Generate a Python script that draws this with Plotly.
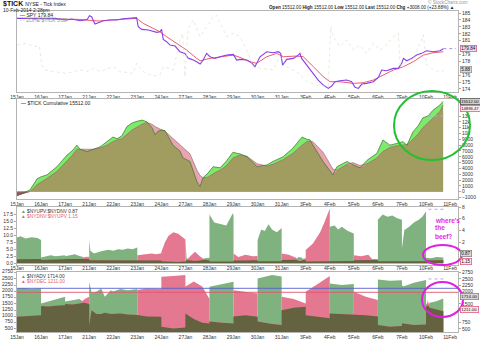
import plotly.graph_objects as go
import numpy as np

W, H = 480, 340
FONT = "Liberation Sans, Arial, sans-serif"

# ---------------- data ----------------
dates = ["15Jan", "16Jan", "17Jan", "21Jan", "22Jan", "23Jan", "24Jan", "27Jan", "28Jan", "29Jan",
         "30Jan", "31Jan", "3Feb", "4Feb", "5Feb", "6Feb", "7Feb", "10Feb", "11Feb"]

# SPY intraday (x = trading-day index)
spy_x = [0.00, 1.58, 2.06, 2.27, 2.62, 2.92, 3.01, 3.10, 3.24, 3.38, 3.59, 3.87, 4.14, 4.42, 4.83, 4.97,
         5.04, 5.18, 5.46, 5.81, 5.94, 6.01, 6.08, 6.22, 6.36, 6.57, 6.77, 6.98, 7.12, 7.26, 7.47, 7.61,
         7.74, 7.88, 8.02, 8.23, 8.44, 8.72, 8.99, 9.13, 9.27, 9.55, 9.75, 9.89, 10.10, 10.38, 10.65,
         10.86, 10.96, 11.04, 11.21, 11.49, 11.69, 11.76, 11.83, 12.04, 12.25, 12.52, 12.73, 12.94,
         13.08, 13.22, 13.42, 13.70, 13.91, 14.05, 14.19, 14.33, 14.53, 14.81, 15.02, 15.16, 15.36,
         15.64, 15.85, 15.99, 16.06, 16.20, 16.40, 16.61, 16.82, 17.02, 17.30, 17.58, 17.72]
spy = [184.23, 184.23, 183.99, 184.13, 183.89, 184.08, 184.61, 184.47, 183.41, 183.60, 183.89, 183.99,
       183.99, 184.18, 184.33, 184.33, 183.02, 182.63, 182.54, 182.20, 182.29, 182.63, 181.18, 180.85,
       180.36, 180.22, 179.40, 179.16, 178.43, 178.29, 177.95, 177.61, 178.19, 179.16, 178.67, 178.43,
       178.67, 178.91, 179.01, 178.19, 178.29, 178.19, 177.80, 177.22, 178.67, 179.40, 179.25, 179.40,
       179.16, 177.46, 178.29, 178.43, 178.91, 179.16, 178.43, 177.46, 176.50, 175.29, 174.57, 174.08,
       174.42, 175.05, 175.19, 175.29, 175.05, 174.23, 174.08, 174.71, 174.81, 175.05, 175.68, 176.74,
       176.64, 176.98, 176.98, 177.71, 178.43, 178.09, 178.43, 178.91, 179.16, 179.54, 179.40, 179.54,
       179.84]

# SPY moving average (red)
spy_ma_x = [0.00, 2.62, 3.17, 3.45, 3.87, 4.83, 4.97, 5.25, 5.67, 5.94, 6.22, 6.64, 7.05, 7.47, 7.61,
            8.02, 8.58, 8.99, 9.27, 9.68, 9.96, 10.38, 10.79, 11.07, 11.62, 11.90, 12.32, 12.73, 13.01,
            13.42, 13.98, 14.39, 14.81, 15.22, 15.64, 16.06, 16.47, 16.89, 17.30, 17.72]
spy_ma = [184.23, 184.08, 183.89, 183.85, 183.99, 184.23, 184.23, 183.50, 182.78, 182.29, 181.57,
          180.60, 179.64, 178.43, 178.09, 178.43, 178.67, 178.91, 178.57, 177.95, 177.71, 178.67,
          179.16, 178.67, 178.77, 178.67, 177.22, 175.77, 175.05, 175.05, 174.81, 174.91, 175.29,
          176.02, 176.74, 177.22, 177.95, 178.91, 179.25, 179.40]

# $TICK (dotted, light green)
tick_x = [0.01, 0.40, 0.68, 0.93, 1.03, 1.16, 1.51, 2.06, 2.62, 2.90, 3.17, 3.45, 4.00, 4.28, 4.83, 4.97,
          5.25, 5.67, 5.94, 6.08, 6.50, 6.77, 6.89, 6.98, 7.12, 7.33, 7.61, 7.88, 8.16, 8.30, 8.44, 8.72,
          8.99, 9.27, 9.55, 9.82, 10.10, 10.65, 10.93, 11.21, 11.62, 12.04, 12.46, 12.94, 13.04, 13.15,
          13.42, 13.70, 13.98, 14.26, 14.53, 14.81, 15.09, 15.36, 15.64, 15.85, 15.92, 16.20, 16.47,
          16.75, 16.89, 17.02, 17.30, 17.58, 17.72]
tick_v = [134, 142, 126, 129, 36, 11, 3, -6, 11, 3, 19, 3, 27, 3, -6, 44, 3, -19, -14, 27, 11, 159, 192,
          -22, 217, 258, 175, 225, 274, 282, 241, 175, 192, 175, 110, 27, 19, 11, 77, 27, 3, -47, -63,
          -71, 225, 175, 126, 159, 110, 134, 93, 142, 110, 134, 175, 192, 36, 52, 68, 142, 184, 36, 11,
          3, 5.88]

# $TICK cumulative and its moving average
cum_x = [0.00, 0.54, 0.83, 0.96, 1.25, 1.66, 2.08, 2.29, 2.49, 2.62, 2.91, 3.16, 3.45, 3.74, 3.99, 4.16,
         4.36, 4.57, 4.78, 4.99, 5.20, 5.40, 5.61, 5.74, 5.86, 6.03, 6.15, 6.48, 6.77, 6.90, 7.19, 7.48,
         7.61, 7.73, 7.94, 8.15, 8.44, 8.69, 8.98, 9.14, 9.27, 9.56, 9.98, 10.39, 10.64, 11.06, 11.47,
         11.85, 12.05, 12.18, 12.30, 12.72, 13.01, 13.13, 13.30, 13.72, 13.97, 14.26, 14.55, 14.96,
         15.21, 15.50, 15.79, 16.04, 16.21, 16.46, 16.67, 16.87, 17.08, 17.29, 17.58, 17.71]
cum = [-700, 300, 2200, 2500, 2900, 4300, 6300, 7000, 8000, 7300, 6900, 7300, 7700, 8600, 9400, 9100,
       9600, 11200, 11800, 12100, 12300, 12000, 11000, 9800, 10400, 10600, 10500, 8000, 7000, 5800, 5200,
       1700, 900, 2400, 3200, 4300, 4100, 5200, 6800, 6600, 6500, 6000, 4300, 4600, 5200, 6000, 7500,
       9400, 9000, 8900, 8000, 5200, 3500, 2900, 4300, 5200, 4600, 4100, 5400, 6600, 8900, 8000, 8300,
       8600, 8000, 10300, 11300, 12700, 13000, 14000, 14900, 15512]
cum_ma = [-100, 0, 1200, 1500, 2300, 3500, 5200, 6200, 7300, 7300, 7200, 7300, 7500, 8000, 8600, 8900,
          9100, 9800, 10600, 11100, 11600, 11900, 11600, 11200, 10900, 10600, 10400, 9200, 8200, 7700,
          6500, 3700, 2800, 2400, 2500, 3100, 3700, 4400, 5800, 6100, 6300, 6100, 4800, 4400, 4700, 5500,
          6600, 8000, 8600, 8700, 8600, 6800, 4800, 3900, 3700, 4700, 5000, 4500, 4800, 5800, 6900, 7600,
          7900, 8000, 8100, 9000, 9900, 11000, 11800, 12600, 13800, 14896.47]

# NYUPV:NYDNV (green) and NYDNV:NYUPV (pink)
br_x = [0.0, 0.15, 0.35, 0.6, 0.85, 1.0,
        1.0, 1.2, 1.4, 1.6, 1.8, 2.0,
        2.0, 2.2, 2.4, 2.6, 2.75, 2.8, 3.0,
        3.0, 3.05, 3.2, 3.5, 3.8, 4.0,
        4.0, 4.2, 4.4, 4.6, 4.8, 5.0,
        5.0, 5.3, 5.6, 5.8, 6.0,
        6.0, 6.15, 6.3, 6.5, 6.7, 6.9, 7.0,
        7.0, 7.05, 7.2, 7.4, 7.6, 7.8, 8.0,
        8.0, 8.2, 8.5, 8.7, 8.8, 8.97, 9.0,
        9.0, 9.2, 9.5, 9.8, 10.0,
        10.0, 10.15, 10.3, 10.45, 10.6, 10.8, 11.0,
        11.0, 11.3, 11.6, 11.7, 11.85, 11.9, 12.0,
        12.0, 12.3, 12.6, 12.8, 12.97, 13.0,
        13.0, 13.2, 13.35, 13.5, 13.75, 14.0,
        14.0, 14.3, 14.6, 14.8, 15.0,
        15.0, 15.2, 15.4, 15.6, 15.8, 16.0,
        16.0, 16.1, 16.3, 16.5, 16.7, 16.85, 17.0,
        17.0, 17.2, 17.45, 17.72]
up_ratio = [9.2, 9.6, 8.8, 9.3, 9.0, 8.3,
            2.1, 2.6, 2.9, 2.5, 2.7, 2.9,
            2.5, 2.9, 3.2, 2.6, 2.2, 1.6, 1.5,
            8.3, 4.5, 3.5, 4.3, 4.8, 4.5,
            4.5, 5.0, 4.8, 5.3, 5.0, 5.6,
            1.0, 1.0, 1.0, 1.0, 1.0,
            0.7, 0.6, 0.6, 0.5, 0.5, 0.6, 0.6,
            8.3, 1.8, 1.0, 0.8, 1.0, 1.8, 2.0,
            17.3, 14.5, 13.9, 13.4, 15.0, 17.8, 17.0,
            1.0, 1.1, 1.0, 1.1, 1.1,
            8.3, 12.0, 11.5, 13.9, 12.0, 11.0, 12.5,
            1.2, 1.2, 1.3, 2.2, 2.0, 1.2, 1.2,
            0.6, 0.6, 0.6, 0.6, 0.6, 0.6,
            13.0, 13.4, 12.0, 13.0, 11.5, 10.6,
            1.1, 1.1, 1.1, 1.5, 1.4,
            15.5, 17.3, 16.5, 17.0, 16.0, 15.5,
            5.3, 11.8, 13.0, 14.5, 15.5, 16.5, 18.4,
            2.0, 1.8, 2.2, 2.1]
dn_ratio = [1.4, 1.4, 1.4, 1.5, 1.5, 1.5,
            1.2, 1.2, 1.3, 1.3, 1.4, 1.4,
            1.5, 1.5, 1.5, 1.6, 1.6, 2.2, 2.3,
            1.1, 1.1, 1.1, 1.1, 1.1, 1.1,
            1.0, 1.0, 1.0, 1.0, 1.0, 1.0,
            2.9, 3.2, 3.5, 3.2, 3.6,
            4.0, 7.5, 9.8, 11.0, 10.5, 9.0, 8.5,
            0.5, 1.2, 2.5, 4.1, 2.5, 1.3, 1.0,
            0.6, 0.6, 0.6, 0.6, 0.6, 0.6, 0.6,
            3.5, 2.2, 3.0, 2.5, 2.6,
            0.7, 0.7, 0.7, 0.7, 0.7, 0.7, 0.7,
            3.5, 3.0, 2.0, 0.8, 0.9, 1.6, 1.8,
            4.7, 7.0, 11.0, 15.0, 19.5, 19.5,
            0.8, 0.8, 0.8, 0.8, 0.8, 0.8,
            2.9, 2.5, 3.0, 1.2, 1.2,
            0.7, 0.7, 0.7, 0.7, 0.7, 0.7,
            0.7, 0.7, 0.7, 0.7, 0.7, 0.7, 0.7,
            1.1, 1.1, 1.1, 1.1]

# NYSE advancing (green) / declining (pink) volume
vol_x = [0.0, 0.3, 0.6, 1.0,
         1.0, 1.3, 1.6, 2.0,
         2.0, 2.3, 2.6, 2.8, 3.0,
         3.0, 3.1, 3.3, 3.5, 3.65, 3.9, 4.0,
         4.0, 4.3, 4.6, 5.0,
         5.0, 5.4, 6.0,
         6.0, 6.5, 7.0,
         7.0, 7.35, 7.7, 8.0,
         8.0, 8.5, 9.0,
         9.0, 9.5, 10.0,
         10.0, 10.6, 11.0,
         11.0, 11.5, 12.0,
         12.0, 12.5, 13.0,
         13.0, 13.5, 14.0,
         14.0, 14.5, 15.0,
         15.0, 15.5, 16.0,
         16.0, 16.05, 16.5, 17.0,
         17.0, 17.08, 17.15, 17.4, 17.72]
adv = [2120, 2140, 2100, 2130,
       1520, 1600, 1700, 1790,
       1600, 1650, 1700, 1550, 1500,
       2390, 1950, 1990, 2120, 1790, 2050, 2000,
       2000, 2100, 2050, 2100,
       1060, 1000, 990,
       590, 520, 560,
       1120, 900, 750, 720,
       2190, 2300, 2390,
       1000, 1050, 990,
       2520, 2660, 2600,
       1250, 1350, 1390,
       1050, 990, 925,
       2320, 2260, 2300,
       1100, 1050, 1000,
       2480, 2430, 2450,
       2260, 2200, 2350, 2460,
       1520, 1450, 1550, 1600, 1714]
dec = [990, 1000, 1030, 1050,
       1420, 1400, 1430, 1450,
       1500, 1480, 1520, 1690, 1790,
       650, 1250, 1100, 1100, 1150, 1100, 1100,
       1100, 1120, 1080, 1060,
       2060, 2120, 2100,
       2590, 2620, 2660,
       2200, 2400, 2200, 1700,
       800, 750, 720,
       2050, 2000, 1920,
       800, 700, 660,
       1790, 1700, 1520,
       1990, 2300, 2620,
       1120, 1100, 1100,
       1990, 1790, 1660,
       660, 590, 620,
       720, 720, 660, 680,
       1390, 1650, 1350, 1300, 1211]
vol_levels = [2126, 1966]          # blue, red horizontal reference lines

price_ticks = [174, 175, 176, 178, 179, 181, 182, 183, 184, 185]
cum_ticks = list(range(-1000, 14000, 1000))
ratio_ticks = [0, 2.5, 5, 7.5, 10, 12.5, 15, 17.5]
ratio_right_ticks = [2, 4, 6, 8]
vol_ticks = list(range(500, 3000, 250))
vol_right_ticks = [500, 750, 1500, 2000, 2250, 2500, 2750]

# ---------------- layout constants (pixels) ----------------
XL, XR = 17, 458
X_END = 18.33
X_PROJ = 18.25
P1 = (11, 92)
P2 = (99, 199)
P3 = (207, 265)
P4 = (272, 332)


def dom(p):
    return [1 - p[1] / H, 1 - p[0] / H]


GREEN_L, PINK_L, OLIVE_L = "#7cea6a", "#e9a3b3", "#a19c60"
GREEN, PINK, OLIVE = "#7fb27f", "#e47891", "#65623f"

fig = go.Figure()


def line(x, y, xa, ya, color, width, dash=None):
    fig.add_trace(go.Scatter(x=x, y=y, xaxis=xa, yaxis=ya, mode="lines",
                             line=dict(color=color, width=width, dash=dash),
                             hoverinfo="skip", showlegend=False))


def area(x, y, xa, ya, color):
    fig.add_trace(go.Scatter(x=x, y=y, xaxis=xa, yaxis=ya, mode="lines", fill="tozeroy",
                             fillcolor=color, line=dict(width=0, color=color),
                             hoverinfo="skip", showlegend=False))


# panel 1
line(tick_x, tick_v, "x", "y5", "#cde3c6", 0.6, "dot")
line(spy_ma_x, spy_ma, "x", "y", "#e84a5f", 0.9)
line(spy_x, spy, "x", "y", "#8a3ee8", 1.1)
line([spy_x[-1], X_PROJ], [spy[-1], spy[-1]], "x", "y", "#a58cf0", 1.0, "dot")

# panel 2
cum_a = np.array(cum, dtype=float)
ma_a = np.array(cum_ma, dtype=float)
area(cum_x, cum_a, "x2", "y2", GREEN_L)
area(cum_x, ma_a, "x2", "y2", PINK_L)
area(cum_x, np.minimum(cum_a, ma_a), "x2", "y2", OLIVE_L)
area(cum_x, np.minimum(cum_a, 0), "x2", "y2", "#a8506a")
line(cum_x, ma_a, "x2", "y2", "#8c6a5a", 0.6)
line(cum_x, cum_a, "x2", "y2", "#3f6d2e", 0.7)
line([17.1, 17.8], [cum[-4], cum[-4]], "x2", "y2", "#aaaaee", 1.0, "dot")

# panel 3
up_a = np.array(up_ratio)
dn_a = np.array(dn_ratio)
area(br_x, up_a, "x3", "y3", GREEN)
area(br_x, dn_a, "x3", "y3", PINK)
area(br_x, np.minimum(up_a, dn_a), "x3", "y3", OLIVE)
line([17.1, 17.75], [19.2, 19.2], "x3", "y3", "#aaaaee", 1.0, "dot")

# panel 4
adv_a = np.array(adv, dtype=float)
dec_a = np.array(dec, dtype=float)
area(vol_x, adv_a, "x4", "y4", GREEN)
area(vol_x, dec_a, "x4", "y4", PINK)
area(vol_x, np.minimum(adv_a, dec_a), "x4", "y4", OLIVE)
line([0, X_END], [vol_levels[0]] * 2, "x4", "y4", "#5560d0", 0.9)
line([0, X_END], [vol_levels[1]] * 2, "x4", "y4", "#e0566e", 0.9)
line([17.1, 17.75], [2500, 2500], "x4", "y4", "#aaaaee", 1.0, "dot")

# invisible anchors for right-side axes of panels 3/4
fig.add_trace(go.Scatter(x=[0], y=[0], xaxis="x3", yaxis="y6", mode="none", hoverinfo="skip", showlegend=False))
fig.add_trace(go.Scatter(x=[0], y=[1000], xaxis="x4", yaxis="y7", mode="none", hoverinfo="skip", showlegend=False))

tickfont = dict(size=5, color="#333", family=FONT)
xcommon = dict(range=[0, X_END], tickvals=list(range(len(dates))), ticktext=dates, tickfont=tickfont,
               showgrid=False, zeroline=False, showline=True, linecolor="#b4b4b4", linewidth=0.8,
               mirror=True, ticks="", domain=[XL / W, XR / W], automargin=False, fixedrange=True)
ycommon = dict(showgrid=False, zeroline=False, showline=True, linecolor="#b4b4b4", linewidth=0.8,
               mirror=True, ticks="outside", ticklen=2, tickcolor="#aaa", tickfont=tickfont,
               automargin=False)

layout = dict(
    width=W, height=H, margin=dict(l=0, r=0, t=0, b=0),
    paper_bgcolor="white", plot_bgcolor="white", showlegend=False,
    xaxis=dict(xcommon, anchor="y"),
    xaxis2=dict(xcommon, anchor="y2"),
    xaxis3=dict(xcommon, anchor="y3", ticklabelstandoff=-2),
    xaxis4=dict(xcommon, anchor="y4"),
    yaxis=dict(ycommon, domain=dom(P1), range=[173.56, 185.3], side="right", tickvals=price_ticks, anchor="x"),
    yaxis5=dict(overlaying="y", range=[-98, 302], visible=False, anchor="x"),
    yaxis2=dict(ycommon, domain=dom(P2), range=[-1254, 15928], side="right", tickvals=cum_ticks, anchor="x2"),
    yaxis3=dict(ycommon, domain=dom(P3), range=[-0.6, 20], side="left", tickvals=ratio_ticks,
                tickformat=".1f", anchor="x3"),
    yaxis6=dict(ycommon, overlaying="y3", range=[-1.9, 8.0], side="right", tickvals=ratio_right_ticks,
                showline=False, anchor="x3"),
    yaxis4=dict(ycommon, domain=dom(P4), range=[378, 2778], side="left", tickvals=vol_ticks, anchor="x4",
                ticklabelshift=-1),
    yaxis7=dict(ycommon, overlaying="y4", range=[378, 2778], side="right", tickvals=vol_right_ticks,
                showline=False, anchor="x4"),
)
fig.update_layout(**layout)

ann = []


def txt(x, y, s, size=5, color="#222", xanchor="left", **kw):
    ann.append(dict(x=x / W, y=1 - y / H, xref="paper", yref="paper", text=s, showarrow=False,
                    font=dict(size=size, color=color, family=FONT), xanchor=xanchor,
                    yanchor="middle", **kw))


txt(1, 4, "<b>$TICK</b> <span style='font-size:5px'>NYSE - Tick Index</span>", size=7, color="#111")
txt(1, 10, "10-Feb-2014 2:28pm", size=5)
txt(18, 15, "<span style='color:#8a3ee8'><b>—</b></span> SPY 179.84", size=5)
txt(18, 20, "<span style='color:#9fc890'>- -</span> <span style='color:#8a9a70'>ZOHE $TICK 5.88</span>", size=5)
txt(456, 7, "<b>Open</b> 15512.00 <b>High</b> 15512.00 <b>Low</b> 15512.00 <b>Last</b> 15512.00 "
            "<b>Chg</b> +3008.00 (+23.88%) ▲", size=4.6, xanchor="right")
txt(470, 2, "© StockCharts.com", size=4.6, color="#999", xanchor="right")
txt(19, 102.5, "<span style='color:#3f6d2e'><b>—</b></span> $TICK Cumulative 15512.00", size=5)
txt(19, 211, "<span style='color:#5f9f5f'>▲</span> $NYUPV:$NYDNV 0.87", size=4.8, color="#333")
txt(19, 216, "<span style='color:#e0607c'>▲ $NYDNV:$NYUPV 1.15</span>", size=4.8)
txt(19, 276, "<span style='color:#5f9f5f'>▲</span> $NYADV 1714.00", size=4.8, color="#333")
txt(19, 281, "<span style='color:#e0607c'>▲ $NYDEC 1211.00</span>", size=4.8)


# boxed last-value labels on the right
def box(y, s, border, bg, color="#111", size=4.6):
    ann.append(dict(x=460 / W, y=1 - y / H, xref="paper", yref="paper", text=s, showarrow=False,
                    font=dict(size=size, color=color, family=FONT), xanchor="left", yanchor="middle",
                    bordercolor=border, borderwidth=0.8, borderpad=0.4, bgcolor=bg))


box(49, "179.84", "#e06080", "#e8dcf8")
box(70, "5.88", "#999999", "#d8d8d8")
box(101, "15512.00", "#555555", "#d0d0d0", size=4.2)
box(108, "14896.47", "#e06080", "#fbe8ee", size=4.2)
box(253, "0.87", "#888888", "#d8d8d8")
box(261, "1.15", "#e06080", "#fbe8ee")
box(296, "1714.00", "#888888", "#d8d8d8", size=4.4)
box(309, "1211.00", "#e06080", "#fbe8ee", size=4.4)

txt(433, 220, "<b>where's</b>", size=6.5, color="#e81ee8")
txt(433, 228, "<b>the</b>", size=6.5, color="#e81ee8")
txt(433, 236, "<b>beef?</b>", size=6.5, color="#e81ee8")

fig.update_layout(annotations=ann)

shapes = [
    dict(type="circle", xref="paper", yref="paper", x0=394 / W, x1=470 / W, y0=1 - 160 / H, y1=1 - 91 / H,
         line=dict(color="#22c032", width=2)),
    dict(type="circle", xref="paper", yref="paper", x0=423 / W, x1=462 / W, y0=1 - 265 / H, y1=1 - 245 / H,
         line=dict(color="#e020e0", width=2)),
    dict(type="circle", xref="paper", yref="paper", x0=422 / W, x1=463 / W, y0=1 - 317 / H, y1=1 - 282 / H,
         line=dict(color="#e020e0", width=2)),
]
fig.update_layout(shapes=shapes)

fig.write_html("out.html")
